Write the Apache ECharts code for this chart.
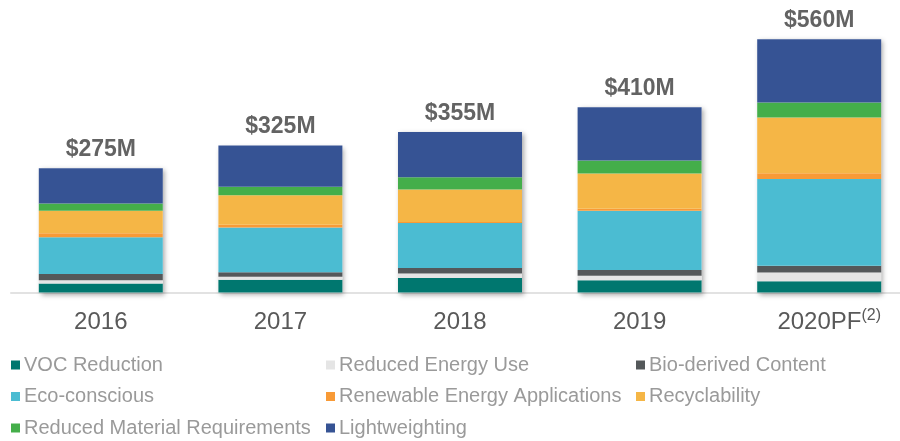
<!DOCTYPE html>
<html>
<head>
<meta charset="utf-8">
<script src="https://cdn.jsdelivr.net/npm/echarts@6/dist/echarts.min.js"></script>
<style>
  html, body { margin: 0; padding: 0; background: #fff; overflow: hidden; }
  #chart { width: 910px; height: 441px; }
</style>
</head>
<body>
<div id="chart"></div>
<script>
const years = ['2016', '2017', '2018', '2019', '2020PF'];
const totals = [275, 325, 355, 410, 560];

// segment values ($M), bottom to top
const vocReduction = [20, 28, 32, 27, 25];
const reducedEnergyUse = [7, 7, 10, 10, 19];
const bioDerived = [14, 10, 12, 13, 15];
const ecoConscious = [81, 99, 100, 131, 192];
const renewableEnergy = [9, 6, 2, 4, 13];
const recyclability = [50, 65, 72, 78, 123];
const reducedMaterial = [16, 19, 27, 29, 33];
const lightweighting = [78, 91, 100, 118, 140];

const segments = [
  { name: 'VOC Reduction', data: vocReduction, color: '#00776F' },
  { name: 'Reduced Energy Use', data: reducedEnergyUse, color: '#E5E5E5' },
  { name: 'Bio-derived Content', data: bioDerived, color: '#54585A' },
  { name: 'Eco-conscious', data: ecoConscious, color: '#4BBCD2' },
  { name: 'Renewable Energy Applications', data: renewableEnergy, color: '#F89A36' },
  { name: 'Recyclability', data: recyclability, color: '#F5B646' },
  { name: 'Reduced Material Requirements', data: reducedMaterial, color: '#44AE4A' },
  { name: 'Lightweighting', data: lightweighting, color: '#365394' }
];

const font = 'Arial, "Liberation Sans", sans-serif';
const barW = 124;

const legendBase = {
  orient: 'vertical',
  top: 354.5,
  padding: 0,
  itemWidth: 9,
  itemHeight: 9,
  itemGap: 10.5,
  icon: 'rect',
  selectedMode: false,
  textStyle: { color: '#9A9A9A', fontSize: 20, fontFamily: font, lineHeight: 21, padding: [0, 0, 0, -1] }
};

const chart = echarts.init(document.getElementById('chart'));

const series = [{
  name: 'Total',
  type: 'bar',
  data: totals,
  barWidth: barW,
  barGap: '-100%',
  z: 1,
  itemStyle: {
    color: '#ffffff',
    shadowColor: 'rgba(0,0,0,0.35)',
    shadowBlur: 5,
    shadowOffsetX: 2,
    shadowOffsetY: 2
  },
  label: {
    show: true,
    position: 'top',
    distance: 7,
    formatter: p => '$' + p.value + 'M',
    color: '#636363',
    fontSize: 23,
    fontWeight: 'bold',
    fontFamily: font
  },
  silent: true
}];

segments.forEach(s => {
  series.push({
    name: s.name,
    type: 'bar',
    stack: 'total',
    data: s.data,
    barWidth: barW,
    barGap: '-100%',
    z: 2,
    itemStyle: { color: s.color }
  });
});

chart.setOption({
  animation: false,
  backgroundColor: '#ffffff',
  grid: { left: 11, top: 0, right: 1, bottom: 148.5, containLabel: false },
  legend: [
    Object.assign({}, legendBase, { left: 11, data: ['VOC Reduction', 'Eco-conscious', 'Reduced Material Requirements'] }),
    Object.assign({}, legendBase, { left: 326, data: ['Reduced Energy Use', 'Renewable Energy Applications', 'Lightweighting'] }),
    Object.assign({}, legendBase, { left: 636, data: ['Bio-derived Content', 'Recyclability'] })
  ],
  xAxis: {
    type: 'category',
    data: years,
    axisLine: { lineStyle: { color: '#E2E2E2', width: 2 } },
    axisTick: { show: false },
    axisLabel: {
      interval: 0,
      hideOverlap: false,
      margin: 15,
      color: '#595959',
      fontSize: 24,
      fontFamily: font,
      formatter: v => v === '2020PF'
        ? '{pad|}{a|' + v + '}{s|(2)}'
        : '{h|}{a|' + v + '}',
      rich: {
        a: { fontSize: 24, color: '#595959', fontFamily: font },
        s: { fontSize: 16, color: '#595959', fontFamily: font, verticalAlign: 'top', padding: [0, 0, 14, 0] },
        pad: { width: 20 },
        h: { width: 0, height: 30 }
      }
    }
  },
  yAxis: {
    type: 'value',
    min: 0,
    max: 647,
    show: false,
    splitLine: { show: false }
  },
  series: series
});
</script>
</body>
</html>
